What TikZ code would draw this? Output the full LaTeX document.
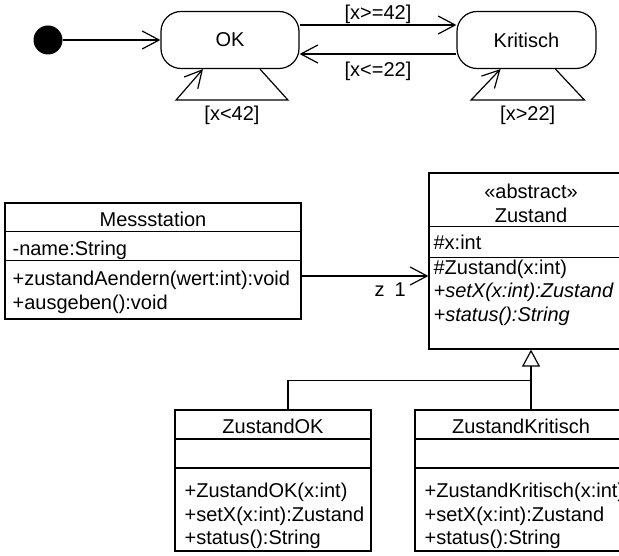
\documentclass[tikz,border=0pt]{standalone}
\usepackage{fontspec}
\setmainfont{Liberation Sans}
\usetikzlibrary{arrows.meta,calc}

\begin{document}
\begin{tikzpicture}[x=1pt,y=-1pt,
  every node/.style={font=\fontsize{20}{23.5}\selectfont},
  edge/.style={draw=black,line width=1.2pt},
  trans/.style={edge,-{Straight Barb[length=17pt,width=18pt]}},
  inherit/.style={edge,-{Triangle[open,length=17pt,width=18pt]}},
  startdot/.style={circle,fill=black,minimum size=29pt,inner sep=0pt},
  state/.style={draw,line width=1.2pt,rounded corners=20pt,minimum height=57pt,inner sep=0pt},
  guard/.style={inner sep=0pt},
  cls/.style={draw,line width=1.2pt,inner sep=0pt},
  cname/.style={anchor=base,inner sep=0pt},
  member/.style={anchor=base west,inner sep=0pt},
]
\useasboundingbox (0,0) rectangle (619,556);
\clip (0,0) rectangle (619,556);

% state machine
\node[startdot] (init) at (48,40) {};
\node[state,minimum width=138pt] (ok) at (230,40) {OK};
\node[state,minimum width=139pt] (krit) at (526.5,40) {Kritisch};

\draw[trans] (init) -- (ok);
\draw[trans] ([yshift=15pt]ok.east) -- node[guard,above=0.5pt] (g1) {[x>=42]} ([yshift=15pt]krit.west);
\draw[trans] ([yshift=-14pt]krit.west) -- node[guard,below=7pt] (g2) {[x<=22]} ([yshift=-14pt]ok.east);
\draw[trans] ([xshift=30pt]ok.south) -- ++(28,31) -- node[guard,below=5pt] (g3) {[x<42]} ++(-112,0) -- ([xshift=-27pt]ok.south);
\draw[trans] ([xshift=29pt]krit.south) -- ++(29,31) -- node[guard,below=5pt] (g4) {[x>22]} ++(-113.5,0) -- ([xshift=-26pt]krit.south);

% class Messstation
\node[cls,minimum width=296pt,minimum height=116pt] (mess) at (153,261) {};
\draw[edge] ($(mess.north west)+(0,29)$) -- ($(mess.north east)+(0,29)$);
\draw[edge] ($(mess.north west)+(0,58)$) -- ($(mess.north east)+(0,58)$);
\node[cname] (messN) at ($(mess.north)+(0,24)$) {Messstation};
\node[member] (messA) at ($(mess.north west)+(8,53)$) {-name:String};
\node[member] (messO1) at ($(mess.north west)+(8,83.5)$) {+zustandAendern(wert:int):void};
\node[member] (messO2) at ($(mess.north west)+(8,107)$) {+ausgeben():void};

% class Zustand
\node[cls,minimum width=204pt,minimum height=176pt] (zust) at (531,261) {};
\draw[edge] ($(zust.north west)+(0,54)$) -- ($(zust.north east)+(0,54)$);
\draw[edge] ($(zust.north west)+(0,85)$) -- ($(zust.north east)+(0,85)$);
\node[cname] (zustS) at ($(zust.north)+(0,26)$) {«abstract»};
\node[cname] (zustN) at ($(zust.north)+(0,50)$) {Zustand};
\node[member] (zustA) at ($(zust.north west)+(5,77)$) {\#x:int};
\node[member] (zustO1) at ($(zust.north west)+(5,102)$) {\#Zustand(x:int)};
\node[member] (zustO2) at ($(zust.north west)+(5,125.5)$) {\itshape +setX(x:int):Zustand};
\node[member] (zustO3) at ($(zust.north west)+(5,149)$) {\itshape +status():String};

% class ZustandOK
\node[cls,minimum width=196pt,minimum height=141pt] (zok) at (273,480.5) {};
\draw[edge] ($(zok.north west)+(0,29.5)$) -- ($(zok.north east)+(0,29.5)$);
\draw[edge] ($(zok.north west)+(0,58.5)$) -- ($(zok.north east)+(0,58.5)$);
\node[cname] (zokN) at ($(zok.north)+(0,24)$) {ZustandOK};
\node[member] (zokO1) at ($(zok.north west)+(10,88.5)$) {+ZustandOK(x:int)};
\node[member] (zokO2) at ($(zok.north west)+(10,112)$) {+setX(x:int):Zustand};
\node[member] (zokO3) at ($(zok.north west)+(10,135.5)$) {+status():String};

% class ZustandKritisch
\node[cls,minimum width=212pt,minimum height=141pt] (zkr) at (521,480.5) {};
\draw[edge] ($(zkr.north west)+(0,29.5)$) -- ($(zkr.north east)+(0,29.5)$);
\draw[edge] ($(zkr.north west)+(0,58.5)$) -- ($(zkr.north east)+(0,58.5)$);
\node[cname] (zkrN) at ($(zkr.north)+(0,24)$) {ZustandKritisch};
\node[member] (zkrO1) at ($(zkr.north west)+(10,88.5)$) {+ZustandKritisch(x:int)};
\node[member] (zkrO2) at ($(zkr.north west)+(10,112)$) {+setX(x:int):Zustand};
\node[member] (zkrO3) at ($(zkr.north west)+(10,135.5)$) {+status():String};

% association and inheritance
\draw[trans] ([yshift=-15pt]mess.east) -- node[pos=1,anchor=north east,inner sep=0pt,xshift=-22pt,yshift=-6pt] (role) {z\hspace{10pt}1} ([yshift=-15pt]zust.west);
\coordinate (split) at ($(zust.south)+(0,31)$);
\draw[edge] ([xshift=15pt]zok.north) |- (split);
\draw[inherit] (zkr.north -| split) -- (zust.south);
\end{tikzpicture}
\end{document}
